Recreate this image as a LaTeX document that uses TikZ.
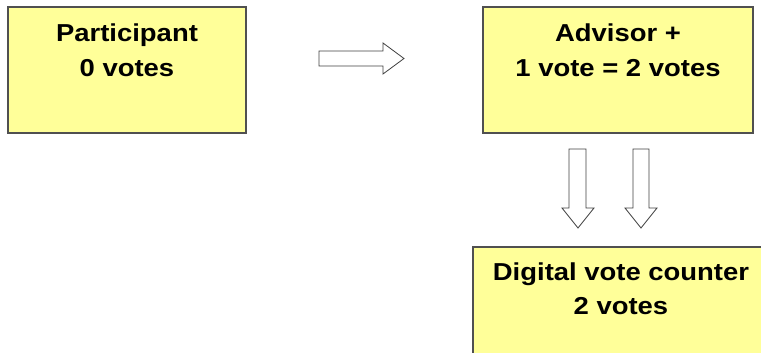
\documentclass[tikz,border=0pt]{standalone}
\usepackage{fontspec}
\setmainfont{Liberation Sans}
\definecolor{boxfill}{HTML}{FFFF99}
\definecolor{boxline}{HTML}{505050}
\definecolor{arrline}{HTML}{404040}
\begin{document}
\begin{tikzpicture}[x=1pt,y=-1pt,
  box/.style={draw=boxline,line width=1.3pt,fill=boxfill},
  lbl/.style={inner sep=0pt,anchor=base,font=\fontsize{24.5}{34.5}\selectfont\bfseries},
  blockarrow/.style={draw=arrline,line width=0.8pt,fill=white,line join=miter}]
\useasboundingbox (0,0) rectangle (761,353);
% boxes
\draw[box] (8,7) rectangle (246,133);
\draw[box] (483,7) rectangle (753,133);
\draw[box] (473,247) rectangle (775,370);
% labels
\node[lbl] (p1) at (127,42) {\scalebox{1.12}[1]{Participant}};
\node[lbl] (p2) at (127,76.5) {\scalebox{1.12}[1]{0 votes}};
\node[lbl] (a1) at (618,42) {\scalebox{1.12}[1]{Advisor +}};
\node[lbl] (a2) at (618,76.5) {\scalebox{1.12}[1]{1 vote = 2 votes}};
\node[lbl] (d1) at (621,280) {\scalebox{1.12}[1]{Digital vote counter}};
\node[lbl] (d2) at (621,314) {\scalebox{1.12}[1]{2 votes}};
% block arrows
\draw[blockarrow] (319,51) -- (383,51) -- (383,43) -- (404,58.5) -- (383,74) -- (383,66) -- (319,66) -- cycle;
\draw[blockarrow] (569,149) -- (586,149) -- (586,208) -- (594,208) -- (578,228) -- (562,208) -- (569,208) -- cycle;
\draw[blockarrow] (633,149) -- (649,149) -- (649,208) -- (657,208) -- (641,228) -- (625,208) -- (633,208) -- cycle;
\end{tikzpicture}
\end{document}
